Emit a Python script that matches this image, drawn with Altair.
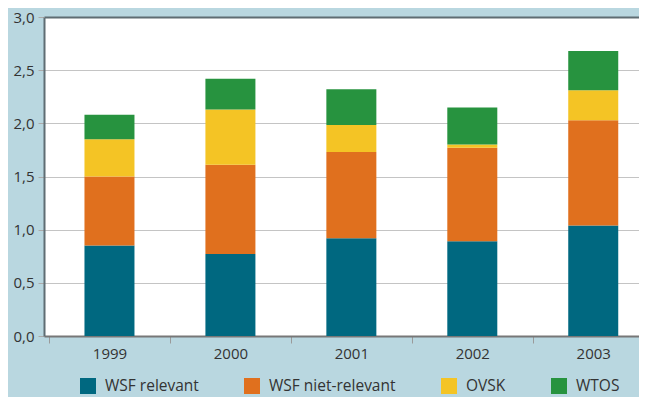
import altair as alt
import pandas as pd

years = ["1999", "2000", "2001", "2002", "2003"]
series = ["WSF relevant", "WSF niet-relevant", "OVSK", "WTOS"]
colors = ["#006880", "#e0701e", "#f4c425", "#27933f"]

wsf_relevant = [0.85, 0.77, 0.92, 0.89, 1.04]
wsf_niet_relevant = [0.65, 0.84, 0.81, 0.88, 0.99]
ovsk = [0.35, 0.52, 0.255, 0.03, 0.28]
wtos = [0.23, 0.29, 0.335, 0.35, 0.37]

y_ticks = [0, 0.5, 1.0, 1.5, 2.0, 2.5, 3.0]

rows = []
for i, yr in enumerate(years):
    for j, (s, vals) in enumerate(zip(series, [wsf_relevant, wsf_niet_relevant, ovsk, wtos])):
        rows.append({"idx": i, "jaar": yr, "reeks": s, "waarde": vals[i], "volgorde": j})
df = pd.DataFrame(rows)

# axis positions: band boundaries (ticks) and band centres (labels)
x_values = []
for i in range(len(years)):
    x_values += [i - 0.5, i]
year_list = "[" + ",".join("'%s'" % y for y in years) + "]"

FONT = "Open Sans"
TXT = "#333333"

chart = alt.Chart(df).mark_bar(size=50).encode(
    x=alt.X(
        "idx:Q", title=None,
        scale=alt.Scale(domain=[-0.5, 4.337], nice=False, zero=False),
        axis=alt.Axis(values=x_values,
                      labelExpr="datum.value % 1 == 0 ? " + year_list + "[datum.value] : ''",
                      tickOpacity={"condition": {"test": "datum.value % 1 != 0", "value": 1}, "value": 0},
                      labelFlush=False, labelOverlap=False,
                      domainColor="#777777", domainWidth=2,
                      tickColor="#9a9a9a", tickSize=7, labelPadding=3, grid=False),
    ),
    y=alt.Y(
        "waarde:Q", stack="zero", title=None,
        scale=alt.Scale(domain=[0, 3], nice=False),
        axis=alt.Axis(values=y_ticks,
                      labelExpr="replace(format(datum.value, '.1f'), '.', ',')",
                      grid=True,
                      gridColor={"condition": {"test": "datum.value >= 3", "value": "#5f6d73"}, "value": "#c4c4c4"},
                      gridWidth={"condition": {"test": "datum.value >= 3", "value": 2}, "value": 1},
                      domainColor="#5f6d73", domainWidth=2,
                      tickColor="#aaaaaa", tickSize=6, labelPadding=4),
    ),
    color=alt.Color(
        "reeks:N",
        scale=alt.Scale(domain=series, range=colors),
        legend=alt.Legend(title=None, orient="none", legendX=36, legendY=361,
                          direction="horizontal", columns=4, gridAlign="none",
                          symbolType="square", symbolSize=256, symbolStrokeWidth=0,
                          symbolOpacity=1,
                          labelFont=FONT, labelFontSize=15.5, labelColor=TXT,
                          columnPadding=45, labelOffset=9, padding=0),
    ),
    order=alt.Order("volgorde:Q"),
).properties(
    width=595, height=319,
    autosize=alt.AutoSizeParams(type="none"),
    padding={"left": 36, "top": 9, "right": 0, "bottom": 61},
    background="#b9d7e0",
).configure_view(
    fill="white", stroke="transparent", strokeWidth=0
).configure_axis(
    labelFont=FONT, labelFontSize=15, labelColor=TXT
)

chart.save("out.html", embed_options={"renderer": "svg", "actions": False})
